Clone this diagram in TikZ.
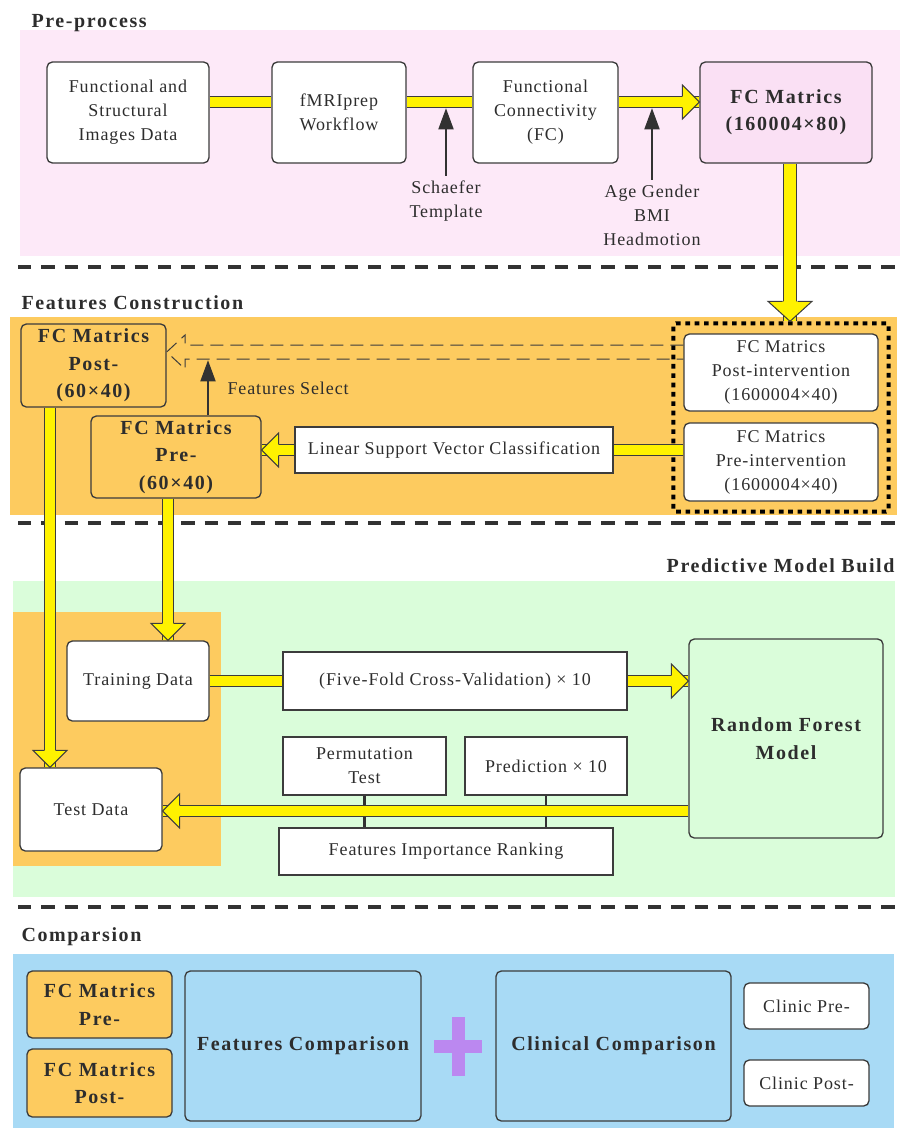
\documentclass[tikz,border=0pt]{standalone}
\usepackage{fontspec}
\setmainfont{Liberation Serif}[LetterSpace=5,BoldFeatures={LetterSpace=8}]
\usetikzlibrary{arrows.meta,calc,fit}

\definecolor{linegray}{RGB}{60,60,60}
\definecolor{arrowgray}{RGB}{50,50,50}
\definecolor{txtgray}{RGB}{45,45,45}
\definecolor{pinkbg}{RGB}{253,233,248}
\definecolor{pinkbox}{RGB}{250,224,244}
\definecolor{orangebg}{RGB}{253,203,95}
\definecolor{greenbg}{RGB}{218,253,218}
\definecolor{bluebg}{RGB}{168,218,245}
\definecolor{plusviolet}{RGB}{187,136,240}

\newcommand{\regfont}{\fontsize{13.5}{18}\selectfont}
\newcommand{\boldfont}{\fontsize{15}{20.5}\selectfont\bfseries}

\tikzset{every picture/.style={line width=0.75pt}}
\tikzset{
  wh/.style 2 args={minimum width=#1*0.75pt, minimum height=#2*0.75pt},
  box/.style={draw=linegray, line width=1pt, rounded corners=4pt, fill=white, text=txtgray, align=center, inner sep=0pt, font=\regfont},
  sqbox/.style={box, rounded corners=0pt},
  bbox/.style={box, font=\boldfont},
  secname/.style={text=txtgray, font=\boldfont, inner sep=0pt},
  fatbar/.style={draw=linegray, line width=0.75pt, double=yellow, double distance=7pt},
  bigbar/.style={draw=linegray, line width=0.75pt, double=yellow, double distance=9.5pt},
  blackarrow/.style={draw=arrowgray, line width=2.2pt, -{Triangle[length=16pt,width=11pt]}},
  sepline/.style={draw=arrowgray, line width=2.5pt, dash pattern=on 10pt off 7.5pt},
  dotbox/.style={draw=black, line width=3pt, dash pattern=on 3.5pt off 3.5pt, rounded corners=2pt},
  dashline/.style={draw=linegray, line width=0.75pt, dash pattern=on 9.75pt off 5.25pt},
}
\tikzset{
  pics/fathead/.style={code={
    \filldraw[fill=yellow, draw=linegray, line width=0.75pt] (-17,5.7) -- (-17,17) -- (0,0) -- (-17,-17) -- (-17,-5.7);}},
  pics/bighead/.style={code={
    \filldraw[fill=yellow, draw=linegray, line width=0.75pt] (-20,7.5) -- (-20,22) -- (0,0) -- (-20,-22) -- (-20,-7.5);}},
}

\begin{document}
\begin{tikzpicture}[x=0.75pt,y=0.75pt,yscale=-1,xscale=1]
\useasboundingbox (0,0) rectangle (903,1128);

%Shape: Rectangle (backgrounds)
\fill[pinkbg] (20,30) rectangle (900,256);
\fill[orangebg] (10,317) rectangle (897,515);
\fill[greenbg] (13,581) rectangle (895,897);
\fill[orangebg] (13,612) rectangle (221,866);
\fill[bluebg] (13,954) rectangle (894,1128);

%Straight Lines (section separators)
\draw[sepline] (18,267) -- (900,267);
\draw[sepline] (18,523) -- (900,523);
\draw[sepline] (18,907) -- (900,907);

% Text Node
\node[secname, anchor=base west] (tpre) at (31,27) {Pre-process};
\node[secname, anchor=base west] (tfeat) at (21,309) {Features Construction};
\node[secname, anchor=base east] (tpred) at (895,572) {Predictive Model Build};
\node[secname, anchor=base west] (tcomp) at (21,941) {Comparsion};

%Shape: Rounded Rect (pre-process row)
\node[box, wh={162}{101}] (fcimg) at (128,112.5) {Functional and\\Structural\\Images Data};
\node[box, wh={134}{101}] (fmriprep) at (339,112.5) {fMRIprep\\Workflow};
\node[box, wh={145}{101}] (fcconn) at (545.5,112.5) {Functional\\Connectivity\\(FC)};
\node[bbox, fill=pinkbox, wh={172}{101}] (fcmat) at (786,112.5) {FC Matrics\\(160004×80)};

% Text Node
\node[text=txtgray, font=\regfont, align=center] (schaefer) at (446,201) {Schaefer\\Template};
\node[text=txtgray, font=\regfont, align=center] (covar) at (652,215) {Age Gender\\BMI\\Headmotion};

%Straight Lines
\coordinate (bar1) at (0,102);
\draw[fatbar] (fcimg.east |- bar1) -- (fmriprep.west |- bar1);
\draw[fatbar] (fmriprep.east |- bar1) -- (fcconn.west |- bar1);
\draw[fatbar] (fcconn.east |- bar1) -- (fcmat.west |- bar1);
\pic at (fcmat.west |- bar1) {fathead};
\draw[blackarrow] (schaefer.north) -- (schaefer.north |- 0,108);
\draw[blackarrow] (covar.north) -- (covar.north |- 0,108);

%Shape: Rounded Rect (features construction)
\node[box, wh={194}{77}] (postint) at (781,372.5) {FC Matrics\\Post-intervention\\(1600004×40)};
\node[box, wh={194}{78}] (preint) at (781,462) {FC Matrics\\Pre-intervention\\(1600004×40)};
\node[dotbox, fit=(postint)(preint), inner sep=7.5pt] (fcsel) {};
\node[sqbox, wh={318}{46}] (lsvc) at (454,450) {Linear Support Vector Classification};
\node[bbox, fill=orangebg, wh={170}{82}] (fcpre) at (176,457) {FC Matrics\\Pre-\\(60×40)};
\node[bbox, fill=orangebg, wh={145}{83}] (fcpost) at (93.5,365.5) {FC Matrics\\Post-\\(60×40)};

% Text Node
\node[text=txtgray, font=\regfont, anchor=west, inner sep=0pt] (fselect) at (227,388) {Features Select};

%Straight Lines
\coordinate (bigx) at (790,0);
\draw[bigbar] (bigx |- fcmat.south) -- (bigx |- fcsel.north);
\pic[rotate=-90] at (bigx |- fcsel.north) {bighead};
\draw[fatbar] (preint.west |- lsvc.east) -- (lsvc.east);
\draw[fatbar] (lsvc.west) -- (fcpre.east |- lsvc.west);
\pic[rotate=180] at (fcpre.east |- lsvc.west) {fathead};
\draw[dashline] (postint.west |- 0,345) -- (185,345) -- (185,335) -- (fcpost.east |- 0,352)
  -- (185,369) -- (185,359) -- (postint.west |- 0,359);
\coordinate (selpt) at (208,360);
\draw[blackarrow] (selpt |- fcpre.north) -- (selpt);

%Shape: Rounded Rect (predictive model)
\node[box, wh={142}{80}] (training) at (138,681) {Training Data};
\node[box, wh={142}{83}] (testdata) at (91,809.5) {Test Data};
\node[sqbox, wh={344}{58}] (cv) at (455,681) {(Five-Fold Cross-Validation) × 10};
\node[bbox, fill=greenbg, wh={194}{199}] (rf) at (786,738.5) {Random Forest\\Model};
\node[sqbox, wh={163}{58}] (perm) at (364.5,766) {Permutation\\Test};
\node[sqbox, wh={162}{58}] (pred) at (546,766) {Prediction × 10};
\node[sqbox, wh={334}{47}] (fir) at (446,851.5) {Features Importance Ranking};

%Straight Lines
\coordinate (v1) at (50,0);
\coordinate (v2) at (168,0);
\draw[fatbar] (v1 |- fcpost.south) -- (v1 |- testdata.north);
\pic[rotate=-90] at (v1 |- testdata.north) {fathead};
\draw[fatbar] (v2 |- fcpre.south) -- (v2 |- training.north);
\pic[rotate=-90] at (v2 |- training.north) {fathead};
\draw[fatbar] (training.east) -- (cv.west);
\draw[fatbar] (cv.east) -- (rf.west |- cv.east);
\pic at (rf.west |- cv.east) {fathead};
\draw[arrowgray, line width=2pt] (perm.south) -- (perm.south |- fir.north);
\draw[arrowgray, line width=2pt] (pred.south) -- (pred.south |- fir.north);
\draw[fatbar] (rf.west |- 0,811) -- (testdata.east |- 0,811);
\pic[rotate=180] at (testdata.east |- 0,811) {fathead};

%Shape: Rounded Rect (comparison)
\node[bbox, fill=orangebg, wh={145}{67}] (cfpre) at (99.5,1004.5) {FC Matrics\\Pre-};
\node[bbox, fill=orangebg, wh={145}{68}] (cfpost) at (99.5,1083) {FC Matrics\\Post-};
\node[bbox, fill=bluebg, wh={236}{150}] (featcomp) at (303,1046) {Features Comparison};
\node[bbox, fill=bluebg, wh={235}{150}] (cliniccomp) at (613.5,1046) {Clinical Comparison};
\node[box, wh={125}{46}] (clinpre) at (806.5,1006) {Clinic Pre-};
\node[box, wh={125}{46}] (clinpost) at (806.5,1083) {Clinic Post-};

%Shape: Cross
\fill[plusviolet] (434,1039.5) rectangle (482,1053);
\fill[plusviolet] (452,1017) rectangle (465,1076);

\end{tikzpicture}
\end{document}
